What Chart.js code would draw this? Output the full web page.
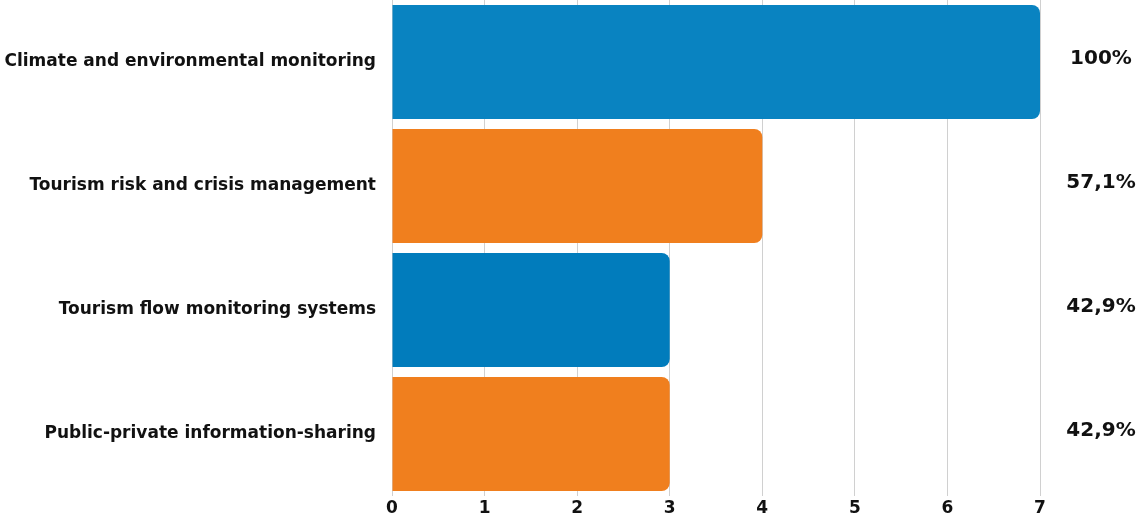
<!DOCTYPE html>
<html>
<head>
<meta charset="utf-8">
<script src="https://cdn.jsdelivr.net/npm/chart.js@4"></script>
<style>
  html, body { margin: 0; padding: 0; background: #fff; }
  #wrap { width: 1139px; height: 518px; }
</style>
</head>
<body>
<div id="wrap"><canvas id="chart"></canvas></div>
<script>
// data
const categories = [
    'Climate and environmental monitoring',
    'Tourism risk and crisis management',
    'Tourism flow monitoring systems',
    'Public-private information-sharing'
];
const counts = [7, 4, 3, 3];
const shares = ['100%', '57,1%', '42,9%', '42,9%'];
const barColors = ['#0983C1', '#F07F1E', '#017CBC', '#F07F1E'];
const xTicks = [0, 1, 2, 3, 4, 5, 6, 7];

const FONT = '"DejaVu Sans", sans-serif';

// percentages on the right side
const shareLabels = {
    id: 'shareLabels',
    afterDatasetsDraw(chart) {
        const ctx = chart.ctx;
        const meta = chart.getDatasetMeta(0);
        ctx.save();
        ctx.font = 'bold 20px ' + FONT;
        ctx.fillStyle = '#111';
        ctx.textAlign = 'center';
        ctx.textBaseline = 'middle';
        meta.data.forEach((bar, i) => {
            ctx.fillText(shares[i], 1101, bar.y - 3);
        });
        ctx.restore();
    }
};

new Chart(document.getElementById('chart'), {
    type: 'bar',
    data: {
        labels: categories,
        datasets: [{
            data: counts,
            backgroundColor: barColors,
            borderRadius: { topRight: 8, bottomRight: 8, topLeft: 0, bottomLeft: 0 },
            borderSkipped: false,
            barPercentage: 0.92,
            categoryPercentage: 1
        }]
    },
    options: {
        indexAxis: 'y',
        responsive: true,
        maintainAspectRatio: false,
        animation: false,
        layout: { padding: { top: 0, right: 99, bottom: 0, left: 0 } },
        plugins: { legend: { display: false }, tooltip: { enabled: false } },
        scales: {
            x: {
                min: 0,
                max: 7,
                afterBuildTicks(scale) {
                    scale.ticks = xTicks.map(v => ({ value: v }));
                },
                afterFit(scale) { scale.height = 22; },
                grid: { color: '#d0d0d0', drawTicks: false, lineWidth: 1 },
                border: { display: false },
                ticks: {
                    color: '#111',
                    padding: 2,
                    font: { family: FONT, size: 17, weight: 'bold' }
                }
            },
            y: {
                grid: { display: false },
                border: { display: false },
                afterFit(scale) {
                    scale.width = 392;
                    scale.paddingTop = 0;
                    scale.paddingBottom = 0;
                },
                ticks: {
                    color: '#111',
                    padding: 8,
                    font: { family: FONT, size: 17, weight: 'bold' }
                }
            }
        }
    },
    plugins: [shareLabels]
});
</script>
</body>
</html>
